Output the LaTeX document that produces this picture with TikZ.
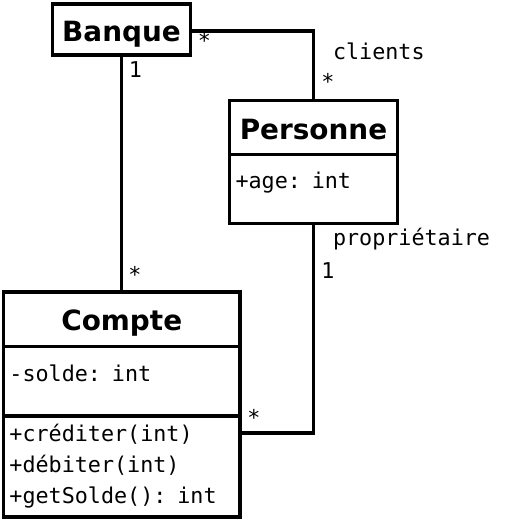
\documentclass[tikz,border=0pt]{standalone}
\usepackage{fontspec}
\setmainfont{DejaVu Sans}
\setmonofont{DejaVu Sans Mono}
\usetikzlibrary{positioning}
\newcommand{\classfont}{\fontsize{20.9}{25}\selectfont\bfseries}
\newcommand{\membfont}{\ttfamily\fontsize{16.3}{23.25}\selectfont}

\begin{document}
\begin{tikzpicture}[x=0.75pt, y=-0.75pt,
  every node/.style={outer sep=0pt},
  classname/.style={draw, line width=2.8pt, font=\classfont, inner xsep=2pt,
                    text height=17.3pt, text depth=0pt},
  members/.style={draw, line width=2.8pt, font=\membfont, align=left,
                  inner xsep=4.5pt},
  attrs/.style={members, text height=12pt, text depth=12pt},
  mult/.style={font=\membfont, anchor=base, inner sep=0pt},
  link/.style={line width=2.8pt}]
  \useasboundingbox (0,0) rectangle (512,520);

  % classes
  \node[classname, minimum width=103.5pt, minimum height=38.5pt]
        (banque) at (121.5,29.5) {Banque};

  \node[classname, minimum width=126pt, minimum height=40.5pt]
        (pname) at (313.5,127.5) {Personne};
  \node[attrs, below=0pt of pname, text width=117pt, minimum height=51.75pt]
        (pattr) {+age: int};

  \node[classname, minimum width=177.4pt, minimum height=40.9pt]
        (cname) at (121.75,319.25) {Compte};
  \node[attrs, below=0pt of cname, text width=168.4pt, minimum height=52.1pt]
        (cattr) {-solde: int};
  \node[members, below=0pt of cattr, text width=168.4pt, minimum height=75.75pt]
        (cmeth) {+créditer(int)\\+débiter(int)\\+getSolde(): int};

  % associations
  \coordinate (owner) at ([yshift=-13pt]cmeth.north east);
  \draw[link] ([yshift=-1.4pt]banque.east) -| (pname.north);
  \draw[link] (banque.south) -- (banque.south |- cname.north);
  \draw[link] (pattr.south) |- (owner);

  % roles and multiplicities
  \node[mult] (bstar) at (204.5,49) {*};
  \node[mult, anchor=base west] (clients) at (333,59.5) {clients};
  \node[mult] (pstar) at (328,90) {*};
  \node[mult] (bone) at (135.5,77.3) {1};
  \node[mult] (cstar) at (135,282) {*};
  \node[mult, anchor=base west] (proprio) at (333,245) {propriétaire};
  \node[mult] (pone) at (328,278) {1};
  \node[mult] (ostar) at (254,425) {*};
\end{tikzpicture}
\end{document}
